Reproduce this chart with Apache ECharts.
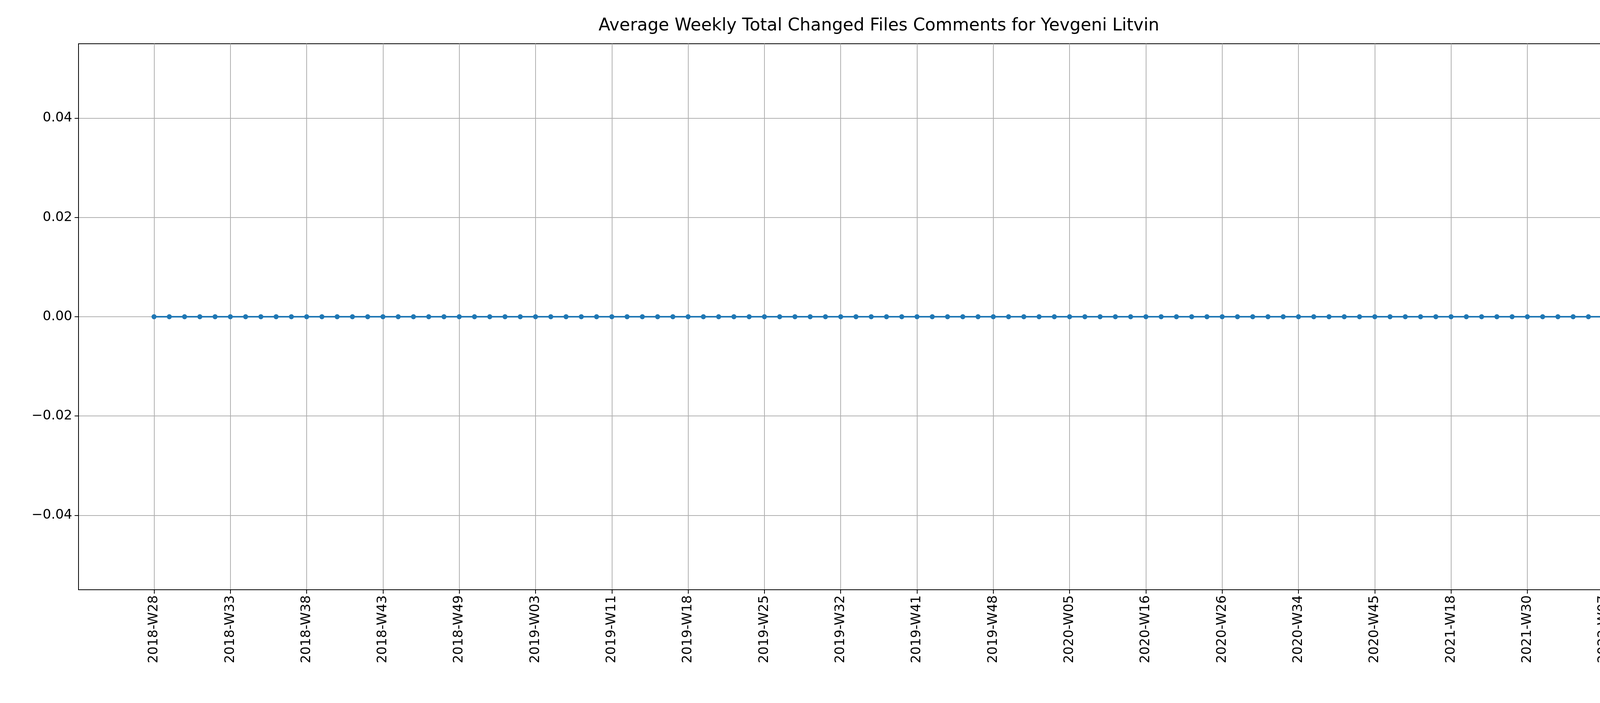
<!DOCTYPE html>
<html>
<head>
<meta charset="utf-8">
<title>Average Weekly Total Changed Files Comments</title>
<script src="https://cdn.jsdelivr.net/npm/echarts@6/dist/echarts.min.js"></script>
</head>
<body style="margin:0;overflow:hidden">
<div id="main" style="width:4500px;height:1800px;"></div>
<script type="text/javascript">
// tick labels, one every 5 weeks (index 0, 5, ... 95)
var tickLabels = ['2018-W28','2018-W33','2018-W38','2018-W43','2018-W49','2019-W03','2019-W11',
  '2019-W18','2019-W25','2019-W32','2019-W41','2019-W48','2020-W05','2020-W16','2020-W26',
  '2020-W34','2020-W45','2021-W18','2021-W30','2022-W07'];
var values = [0,0,0,0,0,0,0,0,0,0, 0,0,0,0,0,0,0,0,0,0,
  0,0,0,0,0,0,0,0,0,0, 0,0,0,0,0,0,0,0,0,0,
  0,0,0,0,0,0,0,0,0,0, 0,0,0,0,0,0,0,0,0,0,
  0,0,0,0,0,0,0,0,0,0, 0,0,0,0,0,0,0,0,0,0,
  0,0,0,0,0,0,0,0,0,0, 0,0,0,0,0,0,0,0,0,0];
var yTicks = [-0.04, -0.02, 0, 0.02, 0.04];

var tickPos = tickLabels.map(function (l, i) { return i * 5; });
var data = values.map(function (v, i) { return [i, v]; });

var myChart = echarts.init(document.getElementById('main'), null, { width: 4500, height: 1800 });
var font = 'DejaVu Sans';
var option = {
  animation: false,
  backgroundColor: '#fff',
  title: {
    text: 'Average Weekly Total Changed Files Comments for Yevgeni Litvin',
    left: 'center', top: 40,
    textStyle: { fontFamily: font, fontWeight: 'normal', fontSize: 44, color: '#000' }
  },
  grid: { left: 201, right: 45, top: 112, bottom: 290, show: true, borderColor: '#000', borderWidth: 2 },
  xAxis: {
    type: 'value', min: -4.95, max: 103.95,
    axisLine: { onZero: false, lineStyle: { color: '#000', width: 2 } },
    axisTick: { customValues: tickPos, length: 10, lineStyle: { color: '#000', width: 2 } },
    axisLabel: {
      customValues: tickPos, rotate: 90, margin: 14, fontFamily: font, fontSize: 34, color: '#000',
      formatter: function (v) { return tickLabels[Math.round(v / 5)]; }
    },
    splitLine: { show: true, lineStyle: { color: '#b0b0b0', width: 2 } }
  },
  yAxis: {
    type: 'value', min: -0.055, max: 0.055,
    axisLine: { show: true, onZero: false, lineStyle: { color: '#000', width: 2 } },
    axisTick: { show: true, customValues: yTicks, length: 10, lineStyle: { color: '#000', width: 2 } },
    axisLabel: {
      customValues: yTicks, margin: 16, fontFamily: font, fontSize: 34, color: '#000',
      formatter: function (v) { return (v < 0 ? '\u2212' : '') + Math.abs(v).toFixed(2); }
    },
    splitLine: { show: true, lineStyle: { color: '#b0b0b0', width: 2 } }
  },
  series: [{
    type: 'line', data: data,
    symbol: 'circle', symbolSize: 13,
    itemStyle: { color: '#1f77b4' },
    lineStyle: { color: '#1f77b4', width: 4 }
  }]
};
myChart.setOption(option);
</script>
</body>
</html>
